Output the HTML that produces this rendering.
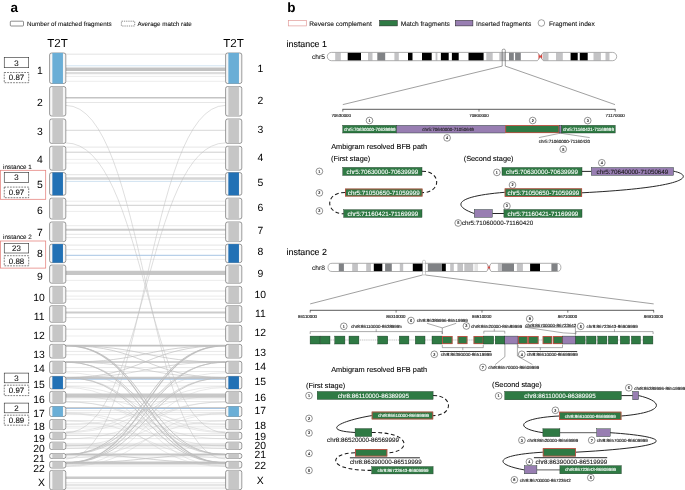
<!DOCTYPE html>
<html><head><meta charset="utf-8"><title>figure</title>
<style>
html,body{margin:0;padding:0;background:#fff;}
body{width:685px;height:490px;overflow:hidden;font-family:"Liberation Sans",sans-serif;}
svg{display:block;will-change:transform;}
svg text{font-family:"Liberation Sans",sans-serif;text-rendering:geometricPrecision;}
</style></head><body>
<svg width="685" height="490" viewBox="0 0 685 490">
<rect x="0" y="0" width="685" height="490" fill="#ffffff"/>
<text x="10.60" y="12.20" font-size="13.5" text-anchor="start" fill="#000" font-weight="bold" >a</text>
<rect x="10.3" y="21.2" width="13.2" height="4.8" rx="0.8" fill="#fff" stroke="#333" stroke-width="0.55"/>
<text x="27.10" y="25.50" font-size="6.25" text-anchor="start" fill="#111"  stroke="#111" stroke-width="0.09">Number of matched fragments</text>
<rect x="121.4" y="21.2" width="13.3" height="4.8" rx="0.3" fill="#fff" stroke="#333" stroke-width="0.55" stroke-dasharray="1.3,0.9"/>
<text x="137.40" y="25.50" font-size="6.25" text-anchor="start" fill="#111"  stroke="#111" stroke-width="0.09">Average match rate</text>
<text x="57.60" y="47.00" font-size="11.6" text-anchor="middle" fill="#000" >T2T</text>
<text x="233.60" y="47.00" font-size="11.6" text-anchor="middle" fill="#000" >T2T</text>
<g id="links">
<path d="M65.8,54.20H225.6" stroke="#c7c7c7" stroke-width="0.5" stroke-opacity="1.0" fill="none"/>
<path d="M65.8,65.80H225.6" stroke="#a9c9e6" stroke-width="0.55" stroke-opacity="1.0" fill="none"/>
<path d="M65.8,69.20H225.6" stroke="#c2c2c2" stroke-width="3.6" stroke-opacity="1.0" fill="none"/>
<path d="M65.8,73.20H225.6" stroke="#dddddd" stroke-width="2.2" stroke-opacity="1.0" fill="none"/>
<path d="M65.8,76.40H225.6" stroke="#d9d9d9" stroke-width="0.5" stroke-opacity="1.0" fill="none"/>
<path d="M65.8,81.30H225.6" stroke="#d9d9d9" stroke-width="0.5" stroke-opacity="1.0" fill="none"/>
<path d="M65.8,97.70H225.6" stroke="#c4c4c4" stroke-width="1.4" stroke-opacity="1.0" fill="none"/>
<path d="M65.8,102.50H225.6" stroke="#cdcdcd" stroke-width="0.5" stroke-opacity="1.0" fill="none"/>
<path d="M65.8,130.30H225.6" stroke="#c6c6c6" stroke-width="0.7" stroke-opacity="1.0" fill="none"/>
<path d="M65.8,147.10H225.6" stroke="#cbcbcb" stroke-width="0.5" stroke-opacity="1.0" fill="none"/>
<path d="M65.8,152.20H225.6" stroke="#c8c8c8" stroke-width="0.9" stroke-opacity="1.0" fill="none"/>
<path d="M65.8,159.40H225.6" stroke="#dbdbdb" stroke-width="0.5" stroke-opacity="1.0" fill="none"/>
<path d="M65.8,163.10H225.6" stroke="#dbdbdb" stroke-width="0.5" stroke-opacity="1.0" fill="none"/>
<path d="M65.8,174.70H225.6" stroke="#c7c7c7" stroke-width="0.5" stroke-opacity="1.0" fill="none"/>
<path d="M65.8,178.50H225.6" stroke="#d5d5d5" stroke-width="2.4" stroke-opacity="1.0" fill="none"/>
<path d="M65.8,181.40H225.6" stroke="#a9c9e6" stroke-width="0.55" stroke-opacity="1.0" fill="none"/>
<path d="M65.8,201.20H225.6" stroke="#d7d7d7" stroke-width="0.5" stroke-opacity="1.0" fill="none"/>
<path d="M65.8,205.30H225.6" stroke="#c8c8c8" stroke-width="0.9" stroke-opacity="1.0" fill="none"/>
<path d="M65.8,211.40H225.6" stroke="#d9d9d9" stroke-width="0.5" stroke-opacity="1.0" fill="none"/>
<path d="M65.8,225.70H225.6" stroke="#d7d7d7" stroke-width="0.5" stroke-opacity="1.0" fill="none"/>
<path d="M65.8,229.80H225.6" stroke="#cccccc" stroke-width="2.0" stroke-opacity="1.0" fill="none"/>
<path d="M65.8,234.30H225.6" stroke="#cbcbcb" stroke-width="0.5" stroke-opacity="1.0" fill="none"/>
<path d="M65.8,237.60H225.6" stroke="#cfcfcf" stroke-width="0.5" stroke-opacity="1.0" fill="none"/>
<path d="M65.8,245.10H225.6" stroke="#c7c7c7" stroke-width="0.5" stroke-opacity="1.0" fill="none"/>
<path d="M65.8,249.60H225.6" stroke="#dbdbdb" stroke-width="0.5" stroke-opacity="1.0" fill="none"/>
<path d="M65.8,255.30H225.6" stroke="#7fabd8" stroke-width="0.7" stroke-opacity="1.0" fill="none"/>
<path d="M65.8,259.40H225.6" stroke="#dbdbdb" stroke-width="0.5" stroke-opacity="1.0" fill="none"/>
<path d="M65.8,272.90H225.6" stroke="#c6c6c6" stroke-width="4.4" stroke-opacity="1.0" fill="none"/>
<path d="M65.8,280.40H225.6" stroke="#d9d9d9" stroke-width="0.5" stroke-opacity="1.0" fill="none"/>
<path d="M65.8,291.00H225.6" stroke="#cecece" stroke-width="0.7" stroke-opacity="1.0" fill="none"/>
<path d="M65.8,296.10H225.6" stroke="#d7d7d7" stroke-width="0.5" stroke-opacity="1.0" fill="none"/>
<path d="M65.8,299.20H225.6" stroke="#d7d7d7" stroke-width="0.5" stroke-opacity="1.0" fill="none"/>
<path d="M65.8,308.40H225.6" stroke="#d7d7d7" stroke-width="0.5" stroke-opacity="1.0" fill="none"/>
<path d="M65.8,312.40H225.6" stroke="#cccccc" stroke-width="2.0" stroke-opacity="1.0" fill="none"/>
<path d="M65.8,317.60H225.6" stroke="#c9c9c9" stroke-width="0.6" stroke-opacity="1.0" fill="none"/>
<path d="M65.8,329.20H225.6" stroke="#c9c9c9" stroke-width="0.6" stroke-opacity="1.0" fill="none"/>
<path d="M65.8,336.00H225.6" stroke="#d9d9d9" stroke-width="0.5" stroke-opacity="1.0" fill="none"/>
<path d="M65.8,345.60H225.6" stroke="#c2c2c2" stroke-width="1.8" stroke-opacity="1.0" fill="none"/>
<path d="M65.8,351.40H225.6" stroke="#cfcfcf" stroke-width="0.5" stroke-opacity="1.0" fill="none"/>
<path d="M65.8,354.70H225.6" stroke="#d3d3d3" stroke-width="0.5" stroke-opacity="1.0" fill="none"/>
<path d="M65.8,362.10H225.6" stroke="#c4c4c4" stroke-width="1.5" stroke-opacity="1.0" fill="none"/>
<path d="M65.8,367.60H225.6" stroke="#cfcfcf" stroke-width="0.5" stroke-opacity="1.0" fill="none"/>
<path d="M65.8,371.50H225.6" stroke="#d5d5d5" stroke-width="0.5" stroke-opacity="1.0" fill="none"/>
<path d="M65.8,377.80H225.6" stroke="#c8c8c8" stroke-width="2.2" stroke-opacity="1.0" fill="none"/>
<path d="M65.8,379.30H225.6" stroke="#86b0da" stroke-width="0.7" stroke-opacity="1.0" fill="none"/>
<path d="M65.8,382.60H225.6" stroke="#cfcfcf" stroke-width="0.5" stroke-opacity="1.0" fill="none"/>
<path d="M65.8,386.00H225.6" stroke="#d3d3d3" stroke-width="0.5" stroke-opacity="1.0" fill="none"/>
<path d="M65.8,395.60H225.6" stroke="#c8c8c8" stroke-width="4.2" stroke-opacity="1.0" fill="none"/>
<path d="M65.8,401.60H225.6" stroke="#cfcfcf" stroke-width="0.5" stroke-opacity="1.0" fill="none"/>
<path d="M65.8,407.60H225.6" stroke="#cccccc" stroke-width="1.2" stroke-opacity="1.0" fill="none"/>
<path d="M65.8,408.50H225.6" stroke="#86b0da" stroke-width="0.7" stroke-opacity="1.0" fill="none"/>
<path d="M65.8,412.60H225.6" stroke="#cfcfcf" stroke-width="0.5" stroke-opacity="1.0" fill="none"/>
<path d="M65.8,420.60H225.6" stroke="#cbcbcb" stroke-width="0.5" stroke-opacity="1.0" fill="none"/>
<path d="M65.8,423.90H225.6" stroke="#cfcfcf" stroke-width="0.5" stroke-opacity="1.0" fill="none"/>
<path d="M65.8,426.30H225.6" stroke="#d5d5d5" stroke-width="0.5" stroke-opacity="1.0" fill="none"/>
<path d="M65.8,435.30H225.6" stroke="#cccccc" stroke-width="0.9" stroke-opacity="1.0" fill="none"/>
<path d="M65.8,438.60H225.6" stroke="#cfcfcf" stroke-width="0.5" stroke-opacity="1.0" fill="none"/>
<path d="M65.8,445.10H225.6" stroke="#cccccc" stroke-width="1.4" stroke-opacity="1.0" fill="none"/>
<path d="M65.8,448.40H225.6" stroke="#cfcfcf" stroke-width="0.5" stroke-opacity="1.0" fill="none"/>
<path d="M65.8,454.50H225.6" stroke="#c6c6c6" stroke-width="2.0" stroke-opacity="1.0" fill="none"/>
<path d="M65.8,463.00H225.6" stroke="#c6c6c6" stroke-width="3.0" stroke-opacity="1.0" fill="none"/>
<path d="M65.8,398.90H225.6" stroke="#d3d3d3" stroke-width="0.5" stroke-opacity="1.0" fill="none"/>
<path d="M65.8,410.60H225.6" stroke="#d5d5d5" stroke-width="0.5" stroke-opacity="1.0" fill="none"/>
<path d="M65.8,414.60H225.6" stroke="#d5d5d5" stroke-width="0.5" stroke-opacity="1.0" fill="none"/>
<path d="M65.8,428.00H225.6" stroke="#d5d5d5" stroke-width="0.5" stroke-opacity="1.0" fill="none"/>
<path d="M65.8,433.60H225.6" stroke="#cfcfcf" stroke-width="0.5" stroke-opacity="1.0" fill="none"/>
<path d="M65.8,443.40H225.6" stroke="#cfcfcf" stroke-width="0.5" stroke-opacity="1.0" fill="none"/>
<path d="M65.8,446.90H225.6" stroke="#d3d3d3" stroke-width="0.5" stroke-opacity="1.0" fill="none"/>
<path d="M65.8,457.00H225.6" stroke="#cfcfcf" stroke-width="0.5" stroke-opacity="1.0" fill="none"/>
<path d="M65.8,466.00H225.6" stroke="#cfcfcf" stroke-width="0.5" stroke-opacity="1.0" fill="none"/>
<path d="M65.8,477.70H225.6" stroke="#cacaca" stroke-width="2.5" stroke-opacity="1.0" fill="none"/>
<path d="M65.8,482.80H225.6" stroke="#cdcdcd" stroke-width="0.5" stroke-opacity="1.0" fill="none"/>
<path d="M65.8,485.00H225.6" stroke="#cecece" stroke-width="1.1" stroke-opacity="1.0" fill="none"/>
<path d="M65.8,487.20H225.6" stroke="#cfcfcf" stroke-width="0.5" stroke-opacity="1.0" fill="none"/>
<path d="M65.8,488.70H225.6" stroke="#d1d1d1" stroke-width="0.5" stroke-opacity="1.0" fill="none"/>
<path d="M65.8,105.40C145.7,105.40 145.7,459.00 225.6,459.00" stroke="#bebebe" stroke-width="0.5" stroke-opacity="1.0" fill="none"/>
<path d="M225.6,105.40C145.7,105.40 145.7,459.00 65.8,459.00" stroke="#bebebe" stroke-width="0.5" stroke-opacity="1.0" fill="none"/>
<path d="M65.8,142.90C145.7,142.90 145.7,432.80 225.6,432.80" stroke="#bebebe" stroke-width="0.5" stroke-opacity="1.0" fill="none"/>
<path d="M225.6,142.90C145.7,142.90 145.7,432.80 65.8,432.80" stroke="#bebebe" stroke-width="0.5" stroke-opacity="1.0" fill="none"/>
<path d="M65.8,345.60C145.7,345.60 145.7,362.10 225.6,362.10" stroke="#bdbdbd" stroke-width="0.7" stroke-opacity="0.95" fill="none"/>
<path d="M225.6,345.60C145.7,345.60 145.7,362.10 65.8,362.10" stroke="#bdbdbd" stroke-width="0.7" stroke-opacity="0.95" fill="none"/>
<path d="M65.8,345.60C145.7,345.60 145.7,377.60 225.6,377.60" stroke="#bdbdbd" stroke-width="0.7" stroke-opacity="0.95" fill="none"/>
<path d="M225.6,345.60C145.7,345.60 145.7,377.60 65.8,377.60" stroke="#bdbdbd" stroke-width="0.7" stroke-opacity="0.95" fill="none"/>
<path d="M65.8,345.60C145.7,345.60 145.7,454.50 225.6,454.50" stroke="#bdbdbd" stroke-width="0.9" stroke-opacity="0.95" fill="none"/>
<path d="M225.6,345.60C145.7,345.60 145.7,454.50 65.8,454.50" stroke="#bdbdbd" stroke-width="0.9" stroke-opacity="0.95" fill="none"/>
<path d="M65.8,345.60C145.7,345.60 145.7,462.80 225.6,462.80" stroke="#bdbdbd" stroke-width="1.05" stroke-opacity="0.95" fill="none"/>
<path d="M225.6,345.60C145.7,345.60 145.7,462.80 65.8,462.80" stroke="#bdbdbd" stroke-width="1.05" stroke-opacity="0.95" fill="none"/>
<path d="M65.8,362.10C145.7,362.10 145.7,377.60 225.6,377.60" stroke="#bdbdbd" stroke-width="0.6" stroke-opacity="0.95" fill="none"/>
<path d="M225.6,362.10C145.7,362.10 145.7,377.60 65.8,377.60" stroke="#bdbdbd" stroke-width="0.6" stroke-opacity="0.95" fill="none"/>
<path d="M65.8,362.10C145.7,362.10 145.7,454.50 225.6,454.50" stroke="#bdbdbd" stroke-width="0.7" stroke-opacity="0.95" fill="none"/>
<path d="M225.6,362.10C145.7,362.10 145.7,454.50 65.8,454.50" stroke="#bdbdbd" stroke-width="0.7" stroke-opacity="0.95" fill="none"/>
<path d="M65.8,362.10C145.7,362.10 145.7,462.80 225.6,462.80" stroke="#bdbdbd" stroke-width="0.9" stroke-opacity="0.95" fill="none"/>
<path d="M225.6,362.10C145.7,362.10 145.7,462.80 65.8,462.80" stroke="#bdbdbd" stroke-width="0.9" stroke-opacity="0.95" fill="none"/>
<path d="M65.8,377.60C145.7,377.60 145.7,454.50 225.6,454.50" stroke="#bdbdbd" stroke-width="0.6" stroke-opacity="0.95" fill="none"/>
<path d="M225.6,377.60C145.7,377.60 145.7,454.50 65.8,454.50" stroke="#bdbdbd" stroke-width="0.6" stroke-opacity="0.95" fill="none"/>
<path d="M65.8,377.60C145.7,377.60 145.7,462.80 225.6,462.80" stroke="#bdbdbd" stroke-width="0.8" stroke-opacity="0.95" fill="none"/>
<path d="M225.6,377.60C145.7,377.60 145.7,462.80 65.8,462.80" stroke="#bdbdbd" stroke-width="0.8" stroke-opacity="0.95" fill="none"/>
<path d="M65.8,454.50C145.7,454.50 145.7,462.80 225.6,462.80" stroke="#bdbdbd" stroke-width="0.7" stroke-opacity="0.95" fill="none"/>
<path d="M225.6,454.50C145.7,454.50 145.7,462.80 65.8,462.80" stroke="#bdbdbd" stroke-width="0.7" stroke-opacity="0.95" fill="none"/>
<path d="M65.8,432.50C145.7,432.50 145.7,386.50 225.6,386.50" stroke="#c4c4c4" stroke-width="0.4" stroke-opacity="0.95" fill="none"/>
<path d="M225.6,432.50C145.7,432.50 145.7,386.50 65.8,386.50" stroke="#c4c4c4" stroke-width="0.4" stroke-opacity="0.95" fill="none"/>
<path d="M65.8,431.70C145.7,431.70 145.7,372.80 225.6,372.80" stroke="#c4c4c4" stroke-width="0.4" stroke-opacity="0.95" fill="none"/>
<path d="M225.6,431.70C145.7,431.70 145.7,372.80 65.8,372.80" stroke="#c4c4c4" stroke-width="0.4" stroke-opacity="0.95" fill="none"/>
<path d="M65.8,424.50C145.7,424.50 145.7,396.00 225.6,396.00" stroke="#c4c4c4" stroke-width="0.4" stroke-opacity="0.95" fill="none"/>
<path d="M225.6,424.50C145.7,424.50 145.7,396.00 65.8,396.00" stroke="#c4c4c4" stroke-width="0.4" stroke-opacity="0.95" fill="none"/>
<path d="M65.8,438.80C145.7,438.80 145.7,402.00 225.6,402.00" stroke="#c4c4c4" stroke-width="0.4" stroke-opacity="0.95" fill="none"/>
<path d="M225.6,438.80C145.7,438.80 145.7,402.00 65.8,402.00" stroke="#c4c4c4" stroke-width="0.4" stroke-opacity="0.95" fill="none"/>
<path d="M65.8,448.60C145.7,448.60 145.7,413.00 225.6,413.00" stroke="#c4c4c4" stroke-width="0.4" stroke-opacity="0.95" fill="none"/>
<path d="M225.6,448.60C145.7,448.60 145.7,413.00 65.8,413.00" stroke="#c4c4c4" stroke-width="0.4" stroke-opacity="0.95" fill="none"/>
<path d="M65.8,401.80C145.7,401.80 145.7,446.00 225.6,446.00" stroke="#c4c4c4" stroke-width="0.4" stroke-opacity="0.95" fill="none"/>
<path d="M225.6,401.80C145.7,401.80 145.7,446.00 65.8,446.00" stroke="#c4c4c4" stroke-width="0.4" stroke-opacity="0.95" fill="none"/>
<path d="M65.8,387.50C145.7,387.50 145.7,466.00 225.6,466.00" stroke="#c4c4c4" stroke-width="0.4" stroke-opacity="0.95" fill="none"/>
<path d="M225.6,387.50C145.7,387.50 145.7,466.00 65.8,466.00" stroke="#c4c4c4" stroke-width="0.4" stroke-opacity="0.95" fill="none"/>
<path d="M65.8,413.50C145.7,413.50 145.7,466.50 225.6,466.50" stroke="#c4c4c4" stroke-width="0.4" stroke-opacity="0.95" fill="none"/>
<path d="M225.6,413.50C145.7,413.50 145.7,466.50 65.8,466.50" stroke="#c4c4c4" stroke-width="0.4" stroke-opacity="0.95" fill="none"/>
<path d="M65.8,421.00C145.7,421.00 145.7,458.00 225.6,458.00" stroke="#c4c4c4" stroke-width="0.4" stroke-opacity="0.95" fill="none"/>
<path d="M225.6,421.00C145.7,421.00 145.7,458.00 65.8,458.00" stroke="#c4c4c4" stroke-width="0.4" stroke-opacity="0.95" fill="none"/>
</g>
<rect x="49.60" y="53.00" width="16.2" height="30.50" rx="2.0" fill="#f6f6f6" stroke="#4a4a4a" stroke-width="0.55"/>
<rect x="52.35" y="52.90" width="10.6" height="30.70" fill="#6aaed6"/>
<rect x="225.60" y="53.00" width="16.2" height="30.50" rx="2.0" fill="#f6f6f6" stroke="#4a4a4a" stroke-width="0.55"/>
<rect x="228.35" y="52.90" width="10.6" height="30.70" fill="#6aaed6"/>
<rect x="49.60" y="86.50" width="16.2" height="29.50" rx="2.0" fill="#f6f6f6" stroke="#4a4a4a" stroke-width="0.55"/>
<rect x="52.35" y="86.40" width="10.6" height="29.70" fill="#c6c6c6"/>
<rect x="225.60" y="86.50" width="16.2" height="29.50" rx="2.0" fill="#f6f6f6" stroke="#4a4a4a" stroke-width="0.55"/>
<rect x="228.35" y="86.40" width="10.6" height="29.70" fill="#c6c6c6"/>
<rect x="49.60" y="119.00" width="16.2" height="24.40" rx="2.0" fill="#f6f6f6" stroke="#4a4a4a" stroke-width="0.55"/>
<rect x="52.35" y="118.90" width="10.6" height="24.60" fill="#c6c6c6"/>
<rect x="225.60" y="119.00" width="16.2" height="24.40" rx="2.0" fill="#f6f6f6" stroke="#4a4a4a" stroke-width="0.55"/>
<rect x="228.35" y="118.90" width="10.6" height="24.60" fill="#c6c6c6"/>
<rect x="49.60" y="146.30" width="16.2" height="23.80" rx="2.0" fill="#f6f6f6" stroke="#4a4a4a" stroke-width="0.55"/>
<rect x="52.35" y="146.20" width="10.6" height="24.00" fill="#c6c6c6"/>
<rect x="225.60" y="146.30" width="16.2" height="23.80" rx="2.0" fill="#f6f6f6" stroke="#4a4a4a" stroke-width="0.55"/>
<rect x="228.35" y="146.20" width="10.6" height="24.00" fill="#c6c6c6"/>
<rect x="49.60" y="172.60" width="16.2" height="22.60" rx="2.0" fill="#f6f6f6" stroke="#4a4a4a" stroke-width="0.55"/>
<rect x="52.35" y="172.50" width="10.6" height="22.80" fill="#2271b5"/>
<rect x="225.60" y="172.60" width="16.2" height="22.60" rx="2.0" fill="#f6f6f6" stroke="#4a4a4a" stroke-width="0.55"/>
<rect x="228.35" y="172.50" width="10.6" height="22.80" fill="#2271b5"/>
<rect x="49.60" y="198.20" width="16.2" height="20.80" rx="2.0" fill="#f6f6f6" stroke="#4a4a4a" stroke-width="0.55"/>
<rect x="52.35" y="198.10" width="10.6" height="21.00" fill="#c6c6c6"/>
<rect x="225.60" y="198.20" width="16.2" height="20.80" rx="2.0" fill="#f6f6f6" stroke="#4a4a4a" stroke-width="0.55"/>
<rect x="228.35" y="198.10" width="10.6" height="21.00" fill="#c6c6c6"/>
<rect x="49.60" y="222.00" width="16.2" height="19.60" rx="2.0" fill="#f6f6f6" stroke="#4a4a4a" stroke-width="0.55"/>
<rect x="52.35" y="221.90" width="10.6" height="19.80" fill="#c6c6c6"/>
<rect x="225.60" y="222.00" width="16.2" height="19.60" rx="2.0" fill="#f6f6f6" stroke="#4a4a4a" stroke-width="0.55"/>
<rect x="228.35" y="221.90" width="10.6" height="19.80" fill="#c6c6c6"/>
<rect x="49.60" y="244.20" width="16.2" height="18.40" rx="2.0" fill="#f6f6f6" stroke="#4a4a4a" stroke-width="0.55"/>
<rect x="52.35" y="244.10" width="10.6" height="18.60" fill="#2271b5"/>
<rect x="225.60" y="244.20" width="16.2" height="18.40" rx="2.0" fill="#f6f6f6" stroke="#4a4a4a" stroke-width="0.55"/>
<rect x="228.35" y="244.10" width="10.6" height="18.60" fill="#2271b5"/>
<rect x="49.60" y="265.10" width="16.2" height="18.10" rx="2.0" fill="#f6f6f6" stroke="#4a4a4a" stroke-width="0.55"/>
<rect x="52.35" y="265.00" width="10.6" height="18.30" fill="#c6c6c6"/>
<rect x="225.60" y="265.10" width="16.2" height="18.10" rx="2.0" fill="#f6f6f6" stroke="#4a4a4a" stroke-width="0.55"/>
<rect x="228.35" y="265.00" width="10.6" height="18.30" fill="#c6c6c6"/>
<rect x="49.60" y="286.40" width="16.2" height="16.80" rx="2.0" fill="#f6f6f6" stroke="#4a4a4a" stroke-width="0.55"/>
<rect x="52.35" y="286.30" width="10.6" height="17.00" fill="#c6c6c6"/>
<rect x="225.60" y="286.40" width="16.2" height="16.80" rx="2.0" fill="#f6f6f6" stroke="#4a4a4a" stroke-width="0.55"/>
<rect x="228.35" y="286.30" width="10.6" height="17.00" fill="#c6c6c6"/>
<rect x="49.60" y="305.70" width="16.2" height="16.60" rx="2.0" fill="#f6f6f6" stroke="#4a4a4a" stroke-width="0.55"/>
<rect x="52.35" y="305.60" width="10.6" height="16.80" fill="#c6c6c6"/>
<rect x="225.60" y="305.70" width="16.2" height="16.60" rx="2.0" fill="#f6f6f6" stroke="#4a4a4a" stroke-width="0.55"/>
<rect x="228.35" y="305.60" width="10.6" height="16.80" fill="#c6c6c6"/>
<rect x="49.60" y="325.30" width="16.2" height="16.30" rx="2.0" fill="#f6f6f6" stroke="#4a4a4a" stroke-width="0.55"/>
<rect x="52.35" y="325.20" width="10.6" height="16.50" fill="#c6c6c6"/>
<rect x="225.60" y="325.30" width="16.2" height="16.30" rx="2.0" fill="#f6f6f6" stroke="#4a4a4a" stroke-width="0.55"/>
<rect x="228.35" y="325.20" width="10.6" height="16.50" fill="#c6c6c6"/>
<rect x="49.60" y="344.40" width="16.2" height="13.60" rx="2.0" fill="#f6f6f6" stroke="#4a4a4a" stroke-width="0.55"/>
<rect x="52.35" y="344.30" width="10.6" height="13.80" fill="#c6c6c6"/>
<rect x="225.60" y="344.40" width="16.2" height="13.60" rx="2.0" fill="#f6f6f6" stroke="#4a4a4a" stroke-width="0.55"/>
<rect x="228.35" y="344.30" width="10.6" height="13.80" fill="#c6c6c6"/>
<rect x="49.60" y="361.30" width="16.2" height="12.10" rx="2.0" fill="#f6f6f6" stroke="#4a4a4a" stroke-width="0.55"/>
<rect x="52.35" y="361.20" width="10.6" height="12.30" fill="#c6c6c6"/>
<rect x="225.60" y="361.30" width="16.2" height="12.10" rx="2.0" fill="#f6f6f6" stroke="#4a4a4a" stroke-width="0.55"/>
<rect x="228.35" y="361.20" width="10.6" height="12.30" fill="#c6c6c6"/>
<rect x="49.60" y="376.40" width="16.2" height="12.50" rx="2.0" fill="#f6f6f6" stroke="#4a4a4a" stroke-width="0.55"/>
<rect x="52.35" y="376.30" width="10.6" height="12.70" fill="#2271b5"/>
<rect x="225.60" y="376.40" width="16.2" height="12.50" rx="2.0" fill="#f6f6f6" stroke="#4a4a4a" stroke-width="0.55"/>
<rect x="228.35" y="376.30" width="10.6" height="12.70" fill="#2271b5"/>
<rect x="49.60" y="391.40" width="16.2" height="11.80" rx="2.0" fill="#f6f6f6" stroke="#4a4a4a" stroke-width="0.55"/>
<rect x="52.35" y="391.30" width="10.6" height="12.00" fill="#c6c6c6"/>
<rect x="225.60" y="391.40" width="16.2" height="11.80" rx="2.0" fill="#f6f6f6" stroke="#4a4a4a" stroke-width="0.55"/>
<rect x="228.35" y="391.30" width="10.6" height="12.00" fill="#c6c6c6"/>
<rect x="49.60" y="406.50" width="16.2" height="10.00" rx="2.0" fill="#f6f6f6" stroke="#4a4a4a" stroke-width="0.55"/>
<rect x="52.35" y="406.40" width="10.6" height="10.20" fill="#6aaed6"/>
<rect x="225.60" y="406.50" width="16.2" height="10.00" rx="2.0" fill="#f6f6f6" stroke="#4a4a4a" stroke-width="0.55"/>
<rect x="228.35" y="406.40" width="10.6" height="10.20" fill="#6aaed6"/>
<rect x="49.60" y="419.50" width="16.2" height="10.10" rx="2.0" fill="#f6f6f6" stroke="#4a4a4a" stroke-width="0.55"/>
<rect x="52.35" y="419.40" width="10.6" height="10.30" fill="#c6c6c6"/>
<rect x="225.60" y="419.50" width="16.2" height="10.10" rx="2.0" fill="#f6f6f6" stroke="#4a4a4a" stroke-width="0.55"/>
<rect x="228.35" y="419.40" width="10.6" height="10.30" fill="#c6c6c6"/>
<rect x="49.60" y="432.30" width="16.2" height="6.90" rx="2.0" fill="#f6f6f6" stroke="#4a4a4a" stroke-width="0.55"/>
<rect x="52.35" y="432.20" width="10.6" height="7.10" fill="#c6c6c6"/>
<rect x="225.60" y="432.30" width="16.2" height="6.90" rx="2.0" fill="#f6f6f6" stroke="#4a4a4a" stroke-width="0.55"/>
<rect x="228.35" y="432.20" width="10.6" height="7.10" fill="#c6c6c6"/>
<rect x="49.60" y="442.20" width="16.2" height="7.30" rx="2.0" fill="#f6f6f6" stroke="#4a4a4a" stroke-width="0.55"/>
<rect x="52.35" y="442.10" width="10.6" height="7.50" fill="#c6c6c6"/>
<rect x="225.60" y="442.20" width="16.2" height="7.30" rx="2.0" fill="#f6f6f6" stroke="#4a4a4a" stroke-width="0.55"/>
<rect x="228.35" y="442.10" width="10.6" height="7.50" fill="#c6c6c6"/>
<rect x="49.60" y="453.50" width="16.2" height="5.00" rx="2.0" fill="#f6f6f6" stroke="#4a4a4a" stroke-width="0.55"/>
<rect x="52.35" y="453.40" width="10.6" height="5.20" fill="#c6c6c6"/>
<rect x="225.60" y="453.50" width="16.2" height="5.00" rx="2.0" fill="#f6f6f6" stroke="#4a4a4a" stroke-width="0.55"/>
<rect x="228.35" y="453.40" width="10.6" height="5.20" fill="#c6c6c6"/>
<rect x="49.60" y="461.40" width="16.2" height="6.60" rx="2.0" fill="#f6f6f6" stroke="#4a4a4a" stroke-width="0.55"/>
<rect x="52.35" y="461.30" width="10.6" height="6.80" fill="#c6c6c6"/>
<rect x="225.60" y="461.40" width="16.2" height="6.60" rx="2.0" fill="#f6f6f6" stroke="#4a4a4a" stroke-width="0.55"/>
<rect x="228.35" y="461.30" width="10.6" height="6.80" fill="#c6c6c6"/>
<rect x="49.60" y="470.40" width="16.2" height="19.30" rx="2.0" fill="#f6f6f6" stroke="#4a4a4a" stroke-width="0.55"/>
<rect x="52.35" y="470.30" width="10.6" height="19.50" fill="#c6c6c6"/>
<rect x="225.60" y="470.40" width="16.2" height="19.30" rx="2.0" fill="#f6f6f6" stroke="#4a4a4a" stroke-width="0.55"/>
<rect x="228.35" y="470.30" width="10.6" height="19.50" fill="#c6c6c6"/>
<text x="39.80" y="73.92" font-size="10.4" text-anchor="middle" fill="#000" >1</text>
<text x="260.30" y="71.62" font-size="10.4" text-anchor="middle" fill="#000" >1</text>
<text x="39.80" y="106.12" font-size="10.4" text-anchor="middle" fill="#000" >2</text>
<text x="260.30" y="103.62" font-size="10.4" text-anchor="middle" fill="#000" >2</text>
<text x="39.80" y="135.32" font-size="10.4" text-anchor="middle" fill="#000" >3</text>
<text x="260.30" y="132.82" font-size="10.4" text-anchor="middle" fill="#000" >3</text>
<text x="39.80" y="163.12" font-size="10.4" text-anchor="middle" fill="#000" >4</text>
<text x="260.30" y="160.52" font-size="10.4" text-anchor="middle" fill="#000" >4</text>
<text x="39.80" y="188.12" font-size="10.4" text-anchor="middle" fill="#000" >5</text>
<text x="260.30" y="185.92" font-size="10.4" text-anchor="middle" fill="#000" >5</text>
<text x="39.80" y="213.52" font-size="10.4" text-anchor="middle" fill="#000" >6</text>
<text x="260.30" y="211.22" font-size="10.4" text-anchor="middle" fill="#000" >6</text>
<text x="39.80" y="236.02" font-size="10.4" text-anchor="middle" fill="#000" >7</text>
<text x="260.30" y="233.82" font-size="10.4" text-anchor="middle" fill="#000" >7</text>
<text x="39.80" y="256.92" font-size="10.4" text-anchor="middle" fill="#000" >8</text>
<text x="260.30" y="255.42" font-size="10.4" text-anchor="middle" fill="#000" >8</text>
<text x="39.80" y="279.72" font-size="10.4" text-anchor="middle" fill="#000" >9</text>
<text x="260.30" y="277.22" font-size="10.4" text-anchor="middle" fill="#000" >9</text>
<text x="39.10" y="300.92" font-size="10.4" text-anchor="middle" fill="#000" >10</text>
<text x="260.30" y="298.12" font-size="10.4" text-anchor="middle" fill="#000" >10</text>
<text x="39.10" y="319.52" font-size="10.4" text-anchor="middle" fill="#000" >11</text>
<text x="260.30" y="317.32" font-size="10.4" text-anchor="middle" fill="#000" >11</text>
<text x="39.10" y="338.82" font-size="10.4" text-anchor="middle" fill="#000" >12</text>
<text x="260.30" y="336.32" font-size="10.4" text-anchor="middle" fill="#000" >12</text>
<text x="39.10" y="357.52" font-size="10.4" text-anchor="middle" fill="#000" >13</text>
<text x="260.30" y="355.72" font-size="10.4" text-anchor="middle" fill="#000" >13</text>
<text x="39.10" y="372.42" font-size="10.4" text-anchor="middle" fill="#000" >14</text>
<text x="260.30" y="370.12" font-size="10.4" text-anchor="middle" fill="#000" >14</text>
<text x="39.10" y="387.62" font-size="10.4" text-anchor="middle" fill="#000" >15</text>
<text x="260.30" y="384.72" font-size="10.4" text-anchor="middle" fill="#000" >15</text>
<text x="39.10" y="402.62" font-size="10.4" text-anchor="middle" fill="#000" >16</text>
<text x="260.30" y="400.92" font-size="10.4" text-anchor="middle" fill="#000" >16</text>
<text x="39.10" y="416.52" font-size="10.4" text-anchor="middle" fill="#000" >17</text>
<text x="260.30" y="414.02" font-size="10.4" text-anchor="middle" fill="#000" >17</text>
<text x="39.10" y="430.22" font-size="10.4" text-anchor="middle" fill="#000" >18</text>
<text x="260.30" y="428.72" font-size="10.4" text-anchor="middle" fill="#000" >18</text>
<text x="39.10" y="441.92" font-size="10.4" text-anchor="middle" fill="#000" >19</text>
<text x="260.30" y="439.52" font-size="10.4" text-anchor="middle" fill="#000" >19</text>
<text x="39.10" y="452.22" font-size="10.4" text-anchor="middle" fill="#000" >20</text>
<text x="260.30" y="449.32" font-size="10.4" text-anchor="middle" fill="#000" >20</text>
<text x="39.10" y="462.12" font-size="10.4" text-anchor="middle" fill="#000" >21</text>
<text x="260.30" y="458.12" font-size="10.4" text-anchor="middle" fill="#000" >21</text>
<text x="39.10" y="472.02" font-size="10.4" text-anchor="middle" fill="#000" >22</text>
<text x="260.30" y="468.62" font-size="10.4" text-anchor="middle" fill="#000" >22</text>
<text x="41.40" y="485.62" font-size="10.4" text-anchor="middle" fill="#000" >X</text>
<text x="260.30" y="484.12" font-size="10.4" text-anchor="middle" fill="#000" >X</text>
<rect x="4.25" y="57.6" width="24.45" height="10.10" fill="#fff" stroke="#2a2a2a" stroke-width="0.6"/>
<text x="16.50" y="65.53" font-size="7.9" text-anchor="middle" fill="#111"  stroke="#111" stroke-width="0.09">3</text>
<rect x="4.25" y="72.5" width="24.45" height="10.20" fill="#fff" stroke="#2a2a2a" stroke-width="0.6" stroke-dasharray="1.8,1.05"/>
<text x="16.50" y="80.48" font-size="7.9" text-anchor="middle" fill="#111"  stroke="#111" stroke-width="0.09">0.87</text>
<rect x="0.4" y="170.3" width="45.3" height="29.0" fill="none" stroke="#e47f7a" stroke-width="0.75"/>
<text x="3.10" y="168.70" font-size="6.3" text-anchor="start" fill="#111"  stroke="#111" stroke-width="0.09">instance 1</text>
<rect x="4.25" y="172.6" width="24.45" height="9.70" fill="#fff" stroke="#2a2a2a" stroke-width="0.6"/>
<text x="16.50" y="180.33" font-size="7.9" text-anchor="middle" fill="#111"  stroke="#111" stroke-width="0.09">3</text>
<rect x="4.25" y="187.1" width="24.45" height="10.60" fill="#fff" stroke="#2a2a2a" stroke-width="0.6" stroke-dasharray="1.8,1.05"/>
<text x="16.50" y="195.28" font-size="7.9" text-anchor="middle" fill="#111"  stroke="#111" stroke-width="0.09">0.97</text>
<rect x="0.4" y="241.0" width="45.3" height="27.1" fill="none" stroke="#e47f7a" stroke-width="0.75"/>
<text x="3.10" y="238.80" font-size="6.3" text-anchor="start" fill="#111"  stroke="#111" stroke-width="0.09">instance 2</text>
<rect x="4.25" y="243.3" width="24.45" height="9.70" fill="#fff" stroke="#2a2a2a" stroke-width="0.6"/>
<text x="16.50" y="251.03" font-size="7.9" text-anchor="middle" fill="#111"  stroke="#111" stroke-width="0.09">23</text>
<rect x="4.25" y="255.7" width="24.45" height="10.10" fill="#fff" stroke="#2a2a2a" stroke-width="0.6" stroke-dasharray="1.8,1.05"/>
<text x="16.50" y="263.63" font-size="7.9" text-anchor="middle" fill="#111"  stroke="#111" stroke-width="0.09">0.88</text>
<rect x="4.25" y="373.1" width="24.45" height="9.70" fill="#fff" stroke="#2a2a2a" stroke-width="0.6"/>
<text x="16.50" y="380.83" font-size="7.9" text-anchor="middle" fill="#111"  stroke="#111" stroke-width="0.09">3</text>
<rect x="4.25" y="385.2" width="24.45" height="10.40" fill="#fff" stroke="#2a2a2a" stroke-width="0.6" stroke-dasharray="1.8,1.05"/>
<text x="16.50" y="393.28" font-size="7.9" text-anchor="middle" fill="#111"  stroke="#111" stroke-width="0.09">0.97</text>
<rect x="4.25" y="403.1" width="24.45" height="9.70" fill="#fff" stroke="#2a2a2a" stroke-width="0.6"/>
<text x="16.50" y="410.83" font-size="7.9" text-anchor="middle" fill="#111"  stroke="#111" stroke-width="0.09">2</text>
<rect x="4.25" y="415.2" width="24.45" height="10.00" fill="#fff" stroke="#2a2a2a" stroke-width="0.6" stroke-dasharray="1.8,1.05"/>
<text x="16.50" y="423.08" font-size="7.9" text-anchor="middle" fill="#111"  stroke="#111" stroke-width="0.09">0.89</text>
<text x="287.30" y="11.80" font-size="13.5" text-anchor="start" fill="#000" font-weight="bold" >b</text>
<rect x="288.3" y="20.4" width="18" height="5.5" fill="#fff" stroke="#df9390" stroke-width="0.65"/>
<text x="309.30" y="25.60" font-size="6.62" text-anchor="start" fill="#111"  stroke="#111" stroke-width="0.09">Reverse complement</text>
<rect x="379.6" y="20.4" width="17.7" height="5.5" fill="#2f7a44" stroke="#1c1c1c" stroke-width="0.5"/>
<text x="400.70" y="25.60" font-size="6.62" text-anchor="start" fill="#111"  stroke="#111" stroke-width="0.09">Match fragments</text>
<rect x="455.3" y="20.4" width="17.6" height="5.5" fill="#987eb2" stroke="#1c1c1c" stroke-width="0.5"/>
<text x="476.10" y="25.60" font-size="6.62" text-anchor="start" fill="#111"  stroke="#111" stroke-width="0.09">Inserted fragments</text>
<circle cx="541.4" cy="23.0" r="3.3" fill="#fff" stroke="#333" stroke-width="0.45"/>
<text x="548.90" y="25.60" font-size="6.62" text-anchor="start" fill="#111"  stroke="#111" stroke-width="0.09">Fragment index</text>
<text x="286.60" y="47.20" font-size="8.85" text-anchor="start" fill="#000"  stroke="#000" stroke-width="0.09">instance 1</text>
<text x="312.00" y="58.86" font-size="6.6" text-anchor="start" fill="#111"  stroke="#111" stroke-width="0.09">chr5</text>
<clipPath id="clip327_52"><path d="M331.45,52.40 L537.40,52.40 L540.35,56.05 L543.30,52.40 L612.55,52.40 A4.15,4.15 0 0 1 612.55,60.70 L543.30,60.70 L540.35,57.05 L537.40,60.70 L331.45,60.70 A4.15,4.15 0 0 1 331.45,52.40 Z"/></clipPath>
<g clip-path="url(#clip327_52)">
<rect x="327.3" y="52.4" width="289.40000000000003" height="8.300000000000004" fill="#fff"/>
<rect x="335.20" y="52.4" width="5.60" height="8.30" fill="#c3c3c5"/>
<rect x="347.70" y="52.4" width="13.30" height="8.30" fill="#000"/>
<rect x="368.00" y="52.4" width="4.50" height="8.30" fill="#c3c3c5"/>
<rect x="377.30" y="52.4" width="7.90" height="8.30" fill="#808285"/>
<rect x="394.40" y="52.4" width="4.40" height="8.30" fill="#c3c3c5"/>
<rect x="408.00" y="52.4" width="4.50" height="8.30" fill="#000"/>
<rect x="422.00" y="52.4" width="9.70" height="8.30" fill="#000"/>
<rect x="435.60" y="52.4" width="1.80" height="8.30" fill="#c3c3c5"/>
<rect x="440.90" y="52.4" width="7.80" height="8.30" fill="#000"/>
<rect x="451.90" y="52.4" width="6.80" height="8.30" fill="#000"/>
<rect x="468.50" y="52.4" width="15.10" height="8.30" fill="#000"/>
<rect x="486.30" y="52.4" width="6.40" height="8.30" fill="#c3c3c5"/>
<rect x="499.30" y="52.4" width="6.20" height="8.30" fill="#c3c3c5"/>
<rect x="509.00" y="52.4" width="4.80" height="8.30" fill="#808285"/>
<rect x="515.10" y="52.4" width="5.70" height="8.30" fill="#808285"/>
<rect x="543.00" y="52.4" width="5.50" height="8.30" fill="#c3c3c5"/>
<rect x="556.00" y="52.4" width="6.80" height="8.30" fill="#c3c3c5"/>
<rect x="570.60" y="52.4" width="7.10" height="8.30" fill="#000"/>
<rect x="579.80" y="52.4" width="7.90" height="8.30" fill="#000"/>
<rect x="593.50" y="52.4" width="7.40" height="8.30" fill="#c3c3c5"/>
<rect x="605.50" y="52.4" width="4.00" height="8.30" fill="#c3c3c5"/>
<rect x="538.50" y="52.4" width="3.70" height="8.30" fill="#e2413b"/>
</g>
<path d="M331.45,52.40 L537.40,52.40 L540.35,56.05 L543.30,52.40 L612.55,52.40 A4.15,4.15 0 0 1 612.55,60.70 L543.30,60.70 L540.35,57.05 L537.40,60.70 L331.45,60.70 A4.15,4.15 0 0 1 331.45,52.40 Z" fill="none" stroke="#8c8c8c" stroke-width="0.7" stroke-linejoin="round"/>
<path d="M342.8,104.6 L502.2,66.1 L502.2,50.3 Q502.2,49.2 503.3,49.2 L504.2,49.2 Q505.3,49.2 505.3,50.3 L505.3,66.1 L615.0,104.6" fill="none" stroke="#404040" stroke-width="0.5" stroke-linejoin="round"/>
<path d="M342.50,109.30 L615.50,109.30" fill="none" stroke="#222" stroke-width="0.75" />
<path d="M342.80,109.30 L342.80,111.60" fill="none" stroke="#222" stroke-width="0.6" />
<text x="341.20" y="117.18" font-size="4.4" text-anchor="middle" fill="#111"  stroke="#111" stroke-width="0.12">70630000</text>
<path d="M479.00,109.30 L479.00,111.60" fill="none" stroke="#222" stroke-width="0.6" />
<text x="479.00" y="117.18" font-size="4.4" text-anchor="middle" fill="#111"  stroke="#111" stroke-width="0.12">70900000</text>
<path d="M615.20,109.30 L615.20,111.60" fill="none" stroke="#222" stroke-width="0.6" />
<text x="615.20" y="117.18" font-size="4.4" text-anchor="middle" fill="#111"  stroke="#111" stroke-width="0.12">71170000</text>
<rect x="342.80" y="125.30" width="53.70" height="7.70" fill="#2f7a44" stroke="#173420" stroke-width="0.4"/>
<text x="369.65" y="130.86" font-size="4.5" text-anchor="middle" fill="#fff"  stroke="#fff" stroke-width="0.12">chr5:70630000-70639999</text>
<rect x="396.50" y="125.30" width="108.90" height="7.70" fill="#987eb2" stroke="#173420" stroke-width="0.4"/>
<text x="447.90" y="130.86" font-size="4.5" text-anchor="middle" fill="#222"  stroke="#222" stroke-width="0.12">chr5:70640000-71050649</text>
<rect x="505.40" y="125.30" width="53.80" height="7.70" fill="#2f7a44"/>
<rect x="505.70" y="125.60" width="53.20" height="7.10" fill="none" stroke="#d04a43" stroke-width="0.8"/>
<rect x="559.20" y="125.30" width="2.50" height="7.70" fill="#987eb2" stroke="#173420" stroke-width="0.4"/>
<rect x="561.70" y="125.30" width="53.50" height="7.70" fill="#2f7a44" stroke="#173420" stroke-width="0.4"/>
<text x="588.45" y="130.86" font-size="4.5" text-anchor="middle" fill="#fff"  stroke="#fff" stroke-width="0.12">chr5:71160421-71169999</text>
<circle cx="369.50" cy="120.50" r="3.35" fill="#fff" stroke="#2a2a2a" stroke-width="0.5"/>
<text x="369.50" y="121.96" font-size="3.8" text-anchor="middle" fill="#111"  stroke="#111" stroke-width="0.12">1</text>
<circle cx="532.70" cy="120.50" r="3.35" fill="#fff" stroke="#2a2a2a" stroke-width="0.5"/>
<text x="532.70" y="121.96" font-size="3.8" text-anchor="middle" fill="#111"  stroke="#111" stroke-width="0.12">2</text>
<circle cx="587.70" cy="120.60" r="3.35" fill="#fff" stroke="#2a2a2a" stroke-width="0.5"/>
<text x="587.70" y="122.06" font-size="3.8" text-anchor="middle" fill="#111"  stroke="#111" stroke-width="0.12">3</text>
<circle cx="447.10" cy="137.90" r="3.35" fill="#fff" stroke="#2a2a2a" stroke-width="0.5"/>
<text x="447.10" y="139.36" font-size="3.8" text-anchor="middle" fill="#111"  stroke="#111" stroke-width="0.12">4</text>
<circle cx="563.20" cy="149.20" r="3.35" fill="#fff" stroke="#2a2a2a" stroke-width="0.5"/>
<text x="563.20" y="150.66" font-size="3.8" text-anchor="middle" fill="#111"  stroke="#111" stroke-width="0.12">5</text>
<path d="M538.90,137.60 L560.40,133.20 L589.70,137.60" fill="none" stroke="#444" stroke-width="0.45" />
<text x="564.40" y="143.41" font-size="4.5" text-anchor="middle" fill="#111"  stroke="#111" stroke-width="0.12">chr5:71060000-71160420</text>
<text x="331.20" y="149.00" font-size="7.35" text-anchor="start" fill="#000"  stroke="#000" stroke-width="0.09">Ambigram resolved BFB path</text>
<text x="331.10" y="160.70" font-size="7.35" text-anchor="start" fill="#000"  stroke="#000" stroke-width="0.09">(First stage)</text>
<text x="463.70" y="160.70" font-size="7.35" text-anchor="start" fill="#000"  stroke="#000" stroke-width="0.09">(Second stage)</text>
<rect x="342.80" y="167.40" width="79.20" height="8.00" fill="#2f7a44" stroke="#173420" stroke-width="0.4"/>
<text x="382.40" y="173.74" font-size="6.27" text-anchor="middle" fill="#fff"  stroke="#fff" stroke-width="0.09">chr5:70630000-70639999</text>
<rect x="345.10" y="188.70" width="77.30" height="7.70" fill="#2f7a44"/>
<rect x="345.40" y="189.00" width="76.70" height="7.10" fill="none" stroke="#d04a43" stroke-width="0.8"/>
<text x="383.75" y="194.89" font-size="6.27" text-anchor="middle" fill="#fff"  stroke="#fff" stroke-width="0.09">chr5:71050650-71059999</text>
<rect x="343.70" y="209.70" width="78.30" height="7.70" fill="#2f7a44" stroke="#173420" stroke-width="0.4"/>
<text x="382.85" y="215.89" font-size="6.27" text-anchor="middle" fill="#fff"  stroke="#fff" stroke-width="0.09">chr5:71160421-71169999</text>
<circle cx="319.40" cy="171.40" r="3.35" fill="#fff" stroke="#2a2a2a" stroke-width="0.5"/>
<text x="319.40" y="172.86" font-size="3.8" text-anchor="middle" fill="#111"  stroke="#111" stroke-width="0.12">1</text>
<circle cx="319.40" cy="192.90" r="3.35" fill="#fff" stroke="#2a2a2a" stroke-width="0.5"/>
<text x="319.40" y="194.36" font-size="3.8" text-anchor="middle" fill="#111"  stroke="#111" stroke-width="0.12">2</text>
<circle cx="319.40" cy="210.90" r="3.35" fill="#fff" stroke="#2a2a2a" stroke-width="0.5"/>
<text x="319.40" y="212.36" font-size="3.8" text-anchor="middle" fill="#111"  stroke="#111" stroke-width="0.12">3</text>
<path d="M422.00,171.20 C441.60,171.20 441.46,192.60 422.40,192.60" fill="none" stroke="#1a1a1a" stroke-width="1.05" stroke-dasharray="3.8,2.6" stroke-linecap="butt"/>
<path d="M345.10,192.40 C324.57,192.40 325.04,213.80 343.70,213.80" fill="none" stroke="#1a1a1a" stroke-width="1.05" stroke-dasharray="3.8,2.6" stroke-linecap="butt"/>
<circle cx="496.90" cy="172.40" r="3.35" fill="#fff" stroke="#2a2a2a" stroke-width="0.5"/>
<text x="496.90" y="173.86" font-size="3.8" text-anchor="middle" fill="#111"  stroke="#111" stroke-width="0.12">1</text>
<path d="M582.00,171.40 L591.30,171.40" fill="none" stroke="#1a1a1a" stroke-width="0.95" />
<rect x="502.00" y="167.50" width="80.00" height="7.90" fill="#2f7a44" stroke="#173420" stroke-width="0.4"/>
<text x="542.00" y="173.79" font-size="6.27" text-anchor="middle" fill="#fff"  stroke="#fff" stroke-width="0.09">chr5:70630000-70639999</text>
<rect x="591.30" y="167.50" width="82.30" height="7.90" fill="#987eb2" stroke="#173420" stroke-width="0.4"/>
<text x="632.45" y="173.79" font-size="6.27" text-anchor="middle" fill="#1a1a1a"  stroke="#1a1a1a" stroke-width="0.09">chr5:70640000-71050649</text>
<circle cx="601.80" cy="162.80" r="3.35" fill="#fff" stroke="#2a2a2a" stroke-width="0.5"/>
<text x="601.80" y="164.26" font-size="3.8" text-anchor="middle" fill="#111"  stroke="#111" stroke-width="0.12">4</text>
<path d="M673.6,171.2 C692.5,175 694,187 582,192.8" fill="none" stroke="#1a1a1a" stroke-width="0.95"/>
<circle cx="512.50" cy="185.00" r="3.35" fill="#fff" stroke="#2a2a2a" stroke-width="0.5"/>
<text x="512.50" y="186.46" font-size="3.8" text-anchor="middle" fill="#111"  stroke="#111" stroke-width="0.12">2</text>
<path d="M504.8,192.3 C458,196 450,205 474.2,213.5" fill="none" stroke="#1a1a1a" stroke-width="0.95"/>
<rect x="504.80" y="188.50" width="77.20" height="8.30" fill="#2f7a44"/>
<rect x="505.10" y="188.80" width="76.60" height="7.70" fill="none" stroke="#d04a43" stroke-width="0.8"/>
<text x="543.40" y="194.99" font-size="6.27" text-anchor="middle" fill="#fff"  stroke="#fff" stroke-width="0.09">chr5:71050650-71059999</text>
<path d="M492.40,213.50 L503.90,213.50" fill="none" stroke="#1a1a1a" stroke-width="0.95" />
<rect x="474.20" y="209.50" width="18.20" height="7.90" fill="#987eb2" stroke="#173420" stroke-width="0.4"/>
<rect x="503.90" y="209.50" width="78.10" height="7.90" fill="#2f7a44" stroke="#173420" stroke-width="0.4"/>
<text x="542.95" y="215.79" font-size="6.27" text-anchor="middle" fill="#fff"  stroke="#fff" stroke-width="0.09">chr5:71160421-71169999</text>
<circle cx="506.90" cy="206.00" r="3.35" fill="#fff" stroke="#2a2a2a" stroke-width="0.5"/>
<text x="506.90" y="207.46" font-size="3.8" text-anchor="middle" fill="#111"  stroke="#111" stroke-width="0.12">3</text>
<circle cx="458.20" cy="223.00" r="3.35" fill="#fff" stroke="#2a2a2a" stroke-width="0.5"/>
<text x="458.20" y="224.46" font-size="3.8" text-anchor="middle" fill="#111"  stroke="#111" stroke-width="0.12">5</text>
<text x="461.90" y="225.34" font-size="6.27" text-anchor="start" fill="#111"  stroke="#111" stroke-width="0.09">chr5:71060000-71160420</text>
<text x="286.60" y="255.20" font-size="8.85" text-anchor="start" fill="#000"  stroke="#000" stroke-width="0.09">instance 2</text>
<text x="312.00" y="270.26" font-size="6.6" text-anchor="start" fill="#111"  stroke="#111" stroke-width="0.09">chr8</text>
<clipPath id="clip328_263"><path d="M332.10,263.30 L486.60,263.30 L488.90,266.90 L491.20,263.30 L556.80,263.30 A4.10,4.10 0 0 1 556.80,271.50 L491.20,271.50 L488.90,267.90 L486.60,271.50 L332.10,271.50 A4.10,4.10 0 0 1 332.10,263.30 Z"/></clipPath>
<g clip-path="url(#clip328_263)">
<rect x="328.0" y="263.3" width="232.89999999999998" height="8.199999999999989" fill="#fff"/>
<rect x="338.80" y="263.3" width="5.10" height="8.20" fill="#808285"/>
<rect x="352.20" y="263.3" width="5.70" height="8.20" fill="#c3c3c5"/>
<rect x="366.20" y="263.3" width="4.70" height="8.20" fill="#c3c3c5"/>
<rect x="373.80" y="263.3" width="8.50" height="8.20" fill="#000"/>
<rect x="385.10" y="263.3" width="6.70" height="8.20" fill="#808285"/>
<rect x="399.80" y="263.3" width="3.40" height="8.20" fill="#c3c3c5"/>
<rect x="412.80" y="263.3" width="10.20" height="8.20" fill="#000"/>
<rect x="427.80" y="263.3" width="14.20" height="8.20" fill="#808285"/>
<rect x="442.00" y="263.3" width="3.80" height="8.20" fill="#000"/>
<rect x="450.20" y="263.3" width="3.60" height="8.20" fill="#c3c3c5"/>
<rect x="457.40" y="263.3" width="5.60" height="8.20" fill="#c3c3c5"/>
<rect x="464.30" y="263.3" width="8.90" height="8.20" fill="#c3c3c5"/>
<rect x="474.40" y="263.3" width="3.60" height="8.20" fill="#e4e4e4"/>
<rect x="497.90" y="263.3" width="4.00" height="8.20" fill="#c3c3c5"/>
<rect x="501.90" y="263.3" width="12.10" height="8.20" fill="#808285"/>
<rect x="516.90" y="263.3" width="6.00" height="8.20" fill="#c3c3c5"/>
<rect x="530.10" y="263.3" width="9.90" height="8.20" fill="#000"/>
<rect x="551.40" y="263.3" width="6.20" height="8.20" fill="#808285"/>
<rect x="487.70" y="263.3" width="2.40" height="8.20" fill="#e2413b"/>
</g>
<path d="M332.10,263.30 L486.60,263.30 L488.90,266.90 L491.20,263.30 L556.80,263.30 A4.10,4.10 0 0 1 556.80,271.50 L491.20,271.50 L488.90,267.90 L486.60,271.50 L332.10,271.50 A4.10,4.10 0 0 1 332.10,263.30 Z" fill="none" stroke="#8c8c8c" stroke-width="0.7" stroke-linejoin="round"/>
<rect x="422.5" y="260.3" width="3.0" height="14.7" rx="1.2" fill="#fff" fill-opacity="0.55" stroke="#9a9a9a" stroke-width="0.5"/>
<path d="M310.2,303.9 L422.6,275.0 M425.4,275.0 L653.7,303.9" fill="none" stroke="#404040" stroke-width="0.5"/>
<path d="M309.90,310.30 L654.00,310.30" fill="none" stroke="#222" stroke-width="0.75" />
<path d="M310.20,310.30 L310.20,312.60" fill="none" stroke="#222" stroke-width="0.6" />
<text x="307.50" y="318.26" font-size="4.35" text-anchor="middle" fill="#111"  stroke="#111" stroke-width="0.12">86110000</text>
<path d="M396.10,310.30 L396.10,312.60" fill="none" stroke="#222" stroke-width="0.6" />
<text x="395.80" y="318.26" font-size="4.35" text-anchor="middle" fill="#111"  stroke="#111" stroke-width="0.12">86310000</text>
<path d="M482.00,310.30 L482.00,312.60" fill="none" stroke="#222" stroke-width="0.6" />
<text x="481.70" y="318.26" font-size="4.35" text-anchor="middle" fill="#111"  stroke="#111" stroke-width="0.12">86510000</text>
<path d="M567.80,310.30 L567.80,312.60" fill="none" stroke="#222" stroke-width="0.6" />
<text x="567.50" y="318.26" font-size="4.35" text-anchor="middle" fill="#111"  stroke="#111" stroke-width="0.12">86710000</text>
<path d="M653.70,310.30 L653.70,312.60" fill="none" stroke="#222" stroke-width="0.6" />
<text x="653.40" y="318.26" font-size="4.35" text-anchor="middle" fill="#111"  stroke="#111" stroke-width="0.12">86910000</text>
<path d="M330.60,340.00 L653.10,340.00" fill="none" stroke="#9c9c9c" stroke-width="0.65" stroke-dasharray="1.25,0.85" />
<rect x="310.10" y="336.10" width="9.90" height="7.90" fill="#2f7a44" stroke="#173420" stroke-width="0.4"/>
<rect x="320.20" y="336.10" width="9.80" height="7.90" fill="#2f7a44" stroke="#173420" stroke-width="0.4"/>
<rect x="334.80" y="336.10" width="10.10" height="7.90" fill="#2f7a44" stroke="#173420" stroke-width="0.4"/>
<rect x="349.00" y="336.10" width="9.90" height="7.90" fill="#2f7a44" stroke="#173420" stroke-width="0.4"/>
<rect x="377.80" y="336.10" width="10.00" height="7.90" fill="#2f7a44" stroke="#173420" stroke-width="0.4"/>
<rect x="399.30" y="336.10" width="9.60" height="7.90" fill="#2f7a44" stroke="#173420" stroke-width="0.4"/>
<rect x="415.30" y="336.10" width="9.70" height="7.90" fill="#2f7a44" stroke="#173420" stroke-width="0.4"/>
<rect x="432.00" y="336.10" width="10.20" height="7.90" fill="#2f7a44" stroke="#173420" stroke-width="0.4"/>
<rect x="442.20" y="336.10" width="10.20" height="7.90" fill="#2f7a44"/>
<rect x="442.50" y="336.40" width="9.60" height="7.30" fill="none" stroke="#d04a43" stroke-width="0.8"/>
<rect x="457.70" y="336.10" width="9.60" height="7.90" fill="#2f7a44"/>
<rect x="458.00" y="336.40" width="9.00" height="7.30" fill="none" stroke="#d04a43" stroke-width="0.8"/>
<rect x="473.70" y="336.10" width="9.70" height="7.90" fill="#2f7a44"/>
<rect x="474.00" y="336.40" width="9.10" height="7.30" fill="none" stroke="#d04a43" stroke-width="0.8"/>
<rect x="483.40" y="336.10" width="10.30" height="7.90" fill="#2f7a44" stroke="#173420" stroke-width="0.4"/>
<rect x="495.20" y="336.10" width="9.60" height="7.90" fill="#2f7a44" stroke="#173420" stroke-width="0.4"/>
<rect x="504.80" y="336.10" width="13.20" height="7.90" fill="#987eb2" stroke="#173420" stroke-width="0.4"/>
<rect x="518.00" y="336.10" width="9.60" height="7.90" fill="#2f7a44"/>
<rect x="518.30" y="336.40" width="9.00" height="7.30" fill="none" stroke="#d04a43" stroke-width="0.8"/>
<rect x="528.20" y="336.10" width="10.20" height="7.90" fill="#2f7a44"/>
<rect x="528.50" y="336.40" width="9.60" height="7.30" fill="none" stroke="#d04a43" stroke-width="0.8"/>
<rect x="542.80" y="336.10" width="9.30" height="7.90" fill="#2f7a44"/>
<rect x="543.10" y="336.40" width="8.70" height="7.30" fill="none" stroke="#d04a43" stroke-width="0.8"/>
<rect x="553.00" y="336.10" width="9.60" height="7.90" fill="#2f7a44"/>
<rect x="553.30" y="336.40" width="9.00" height="7.30" fill="none" stroke="#d04a43" stroke-width="0.8"/>
<rect x="562.60" y="336.10" width="13.20" height="7.90" fill="#987eb2" stroke="#173420" stroke-width="0.4"/>
<rect x="575.80" y="336.10" width="9.30" height="7.90" fill="#2f7a44" stroke="#173420" stroke-width="0.4"/>
<rect x="586.50" y="336.10" width="9.50" height="7.90" fill="#2f7a44" stroke="#173420" stroke-width="0.4"/>
<rect x="597.80" y="336.10" width="9.10" height="7.90" fill="#2f7a44" stroke="#173420" stroke-width="0.4"/>
<rect x="608.40" y="336.10" width="9.40" height="7.90" fill="#2f7a44" stroke="#173420" stroke-width="0.4"/>
<rect x="620.30" y="336.10" width="9.20" height="7.90" fill="#2f7a44" stroke="#173420" stroke-width="0.4"/>
<rect x="631.40" y="336.10" width="9.10" height="7.90" fill="#2f7a44" stroke="#173420" stroke-width="0.4"/>
<rect x="643.10" y="336.10" width="9.80" height="7.90" fill="#2f7a44" stroke="#173420" stroke-width="0.4"/>
<path d="M310.20,334.00 L310.20,331.60 L442.20,331.60 L442.20,334.00" fill="none" stroke="#444" stroke-width="0.45" />
<path d="M376.20,331.60 L376.20,329.20" fill="none" stroke="#444" stroke-width="0.45" />
<circle cx="343.80" cy="326.30" r="3.35" fill="#fff" stroke="#2a2a2a" stroke-width="0.5"/>
<text x="343.80" y="327.76" font-size="3.8" text-anchor="middle" fill="#111"  stroke="#111" stroke-width="0.12">1</text>
<text x="351.10" y="328.00" font-size="4.47" text-anchor="start" fill="#111"  stroke="#111" stroke-width="0.12">chr8:86110000-86389995</text>
<circle cx="411.00" cy="320.50" r="3.35" fill="#fff" stroke="#2a2a2a" stroke-width="0.5"/>
<text x="411.00" y="321.96" font-size="3.8" text-anchor="middle" fill="#111"  stroke="#111" stroke-width="0.12">6</text>
<text x="416.80" y="322.40" font-size="4.47" text-anchor="start" fill="#111"  stroke="#111" stroke-width="0.12">chr8:86389996-86519999</text>
<path d="M427.00,323.30 L442.30,327.90 L456.20,323.30" fill="none" stroke="#444" stroke-width="0.45" />
<path d="M442.30,327.90 L442.30,334.20" fill="none" stroke="#444" stroke-width="0.45" />
<circle cx="466.40" cy="326.00" r="3.35" fill="#fff" stroke="#2a2a2a" stroke-width="0.5"/>
<text x="466.40" y="327.46" font-size="3.8" text-anchor="middle" fill="#111"  stroke="#111" stroke-width="0.12">3</text>
<text x="471.10" y="327.80" font-size="4.47" text-anchor="start" fill="#111"  stroke="#111" stroke-width="0.12">chr8:86520000-86589999</text>
<path d="M483.80,333.60 L483.80,331.20 L504.80,331.20 L504.80,333.60" fill="none" stroke="#444" stroke-width="0.45" />
<path d="M494.30,331.20 L494.30,328.80" fill="none" stroke="#444" stroke-width="0.45" />
<circle cx="529.70" cy="318.80" r="3.35" fill="#fff" stroke="#2a2a2a" stroke-width="0.5"/>
<text x="529.70" y="320.26" font-size="3.8" text-anchor="middle" fill="#111"  stroke="#111" stroke-width="0.12">8</text>
<text x="525.30" y="327.40" font-size="4.47" text-anchor="start" fill="#111"  stroke="#111" stroke-width="0.12">chr8:86700000-86723642</text>
<path d="M524.90,327.20 L575.40,327.20" fill="none" stroke="#333" stroke-width="0.5" />
<path d="M524.90,327.20 L563.50,332.90 L575.30,333.50" fill="none" stroke="#444" stroke-width="0.45" />
<path d="M575.40,327.20 L575.40,335.50" fill="none" stroke="#444" stroke-width="0.45" />
<circle cx="580.70" cy="326.30" r="3.35" fill="#fff" stroke="#2a2a2a" stroke-width="0.5"/>
<text x="580.70" y="327.76" font-size="3.8" text-anchor="middle" fill="#111"  stroke="#111" stroke-width="0.12">5</text>
<text x="586.60" y="328.00" font-size="4.47" text-anchor="start" fill="#111"  stroke="#111" stroke-width="0.12">chr8:86723643-86909999</text>
<path d="M575.90,334.00 L575.90,331.60 L653.10,331.60 L653.10,334.00" fill="none" stroke="#444" stroke-width="0.45" />
<path d="M614.50,331.60 L614.50,329.20" fill="none" stroke="#444" stroke-width="0.45" />
<path d="M442.30,345.00 L442.30,347.60 L483.30,347.60 L483.30,345.00" fill="none" stroke="#444" stroke-width="0.45" />
<path d="M462.80,347.60 L462.80,350.20" fill="none" stroke="#444" stroke-width="0.45" />
<path d="M440.10,351.50 L491.20,351.50" fill="none" stroke="#111" stroke-width="0.8" />
<circle cx="434.30" cy="354.30" r="3.35" fill="#fff" stroke="#2a2a2a" stroke-width="0.5"/>
<text x="434.30" y="355.76" font-size="3.8" text-anchor="middle" fill="#111"  stroke="#111" stroke-width="0.12">2</text>
<text x="440.70" y="355.90" font-size="4.47" text-anchor="start" fill="#111"  stroke="#111" stroke-width="0.12">chr8:86390000-86519999</text>
<path d="M518.10,345.00 L518.10,347.60 L562.50,347.60 L562.50,345.00" fill="none" stroke="#444" stroke-width="0.45" />
<path d="M540.30,347.60 L540.30,350.20" fill="none" stroke="#444" stroke-width="0.45" />
<path d="M526.70,351.50 L577.20,351.50" fill="none" stroke="#111" stroke-width="0.8" />
<circle cx="521.80" cy="354.30" r="3.35" fill="#fff" stroke="#2a2a2a" stroke-width="0.5"/>
<text x="521.80" y="355.76" font-size="3.8" text-anchor="middle" fill="#111"  stroke="#111" stroke-width="0.12">4</text>
<text x="526.70" y="355.90" font-size="4.47" text-anchor="start" fill="#111"  stroke="#111" stroke-width="0.12">chr8:86610000-86699999</text>
<path d="M504.90,344.00 L504.90,356.70 L495.20,364.60" fill="none" stroke="#444" stroke-width="0.45" />
<path d="M517.40,344.00 L517.40,356.00 L532.40,364.50" fill="none" stroke="#444" stroke-width="0.45" />
<circle cx="482.90" cy="367.40" r="3.35" fill="#fff" stroke="#2a2a2a" stroke-width="0.5"/>
<text x="482.90" y="368.86" font-size="3.8" text-anchor="middle" fill="#111"  stroke="#111" stroke-width="0.12">7</text>
<text x="488.20" y="369.20" font-size="4.47" text-anchor="start" fill="#111"  stroke="#111" stroke-width="0.12">chr8:86570000-86609999</text>
<text x="331.20" y="371.50" font-size="7.35" text-anchor="start" fill="#000"  stroke="#000" stroke-width="0.09">Ambigram resolved BFB path</text>
<text x="306.00" y="387.50" font-size="7.35" text-anchor="start" fill="#000"  stroke="#000" stroke-width="0.09">(First stage)</text>
<circle cx="309.00" cy="395.60" r="3.35" fill="#fff" stroke="#2a2a2a" stroke-width="0.5"/>
<text x="309.00" y="397.06" font-size="3.8" text-anchor="middle" fill="#111"  stroke="#111" stroke-width="0.12">1</text>
<circle cx="309.00" cy="418.40" r="3.35" fill="#fff" stroke="#2a2a2a" stroke-width="0.5"/>
<text x="309.00" y="419.86" font-size="3.8" text-anchor="middle" fill="#111"  stroke="#111" stroke-width="0.12">2</text>
<circle cx="309.00" cy="433.00" r="3.35" fill="#fff" stroke="#2a2a2a" stroke-width="0.5"/>
<text x="309.00" y="434.46" font-size="3.8" text-anchor="middle" fill="#111"  stroke="#111" stroke-width="0.12">3</text>
<circle cx="309.00" cy="453.40" r="3.35" fill="#fff" stroke="#2a2a2a" stroke-width="0.5"/>
<text x="309.00" y="454.86" font-size="3.8" text-anchor="middle" fill="#111"  stroke="#111" stroke-width="0.12">4</text>
<circle cx="309.00" cy="470.40" r="3.35" fill="#fff" stroke="#2a2a2a" stroke-width="0.5"/>
<text x="309.00" y="471.86" font-size="3.8" text-anchor="middle" fill="#111"  stroke="#111" stroke-width="0.12">5</text>
<rect x="317.20" y="391.50" width="115.90" height="7.90" fill="#2f7a44" stroke="#173420" stroke-width="0.4"/>
<text x="373.40" y="397.79" font-size="6.27" text-anchor="middle" fill="#fff"  stroke="#fff" stroke-width="0.09">chr8:86110000-86389995</text>
<path d="M433.10,395.40 C453.63,395.40 453.63,415.60 433.10,415.60" fill="none" stroke="#1a1a1a" stroke-width="1.05" stroke-dasharray="3.8,2.6" stroke-linecap="butt"/>
<path d="M371.8,415.6 C345.2,419.9 317.3,430.3 355.1,432.5" fill="none" stroke="#1a1a1a" stroke-width="0.95"/>
<rect x="371.80" y="411.70" width="61.30" height="7.60" fill="#2f7a44"/>
<rect x="372.10" y="412.00" width="60.70" height="7.00" fill="none" stroke="#d04a43" stroke-width="0.8"/>
<text x="403.60" y="417.20" font-size="4.47" text-anchor="middle" fill="#fff"  stroke="#fff" stroke-width="0.12">chr8:86610000-86699999</text>
<rect x="355.10" y="428.60" width="16.70" height="7.90" fill="#2f7a44" stroke="#173420" stroke-width="0.4"/>
<text x="327.10" y="442.14" font-size="6.27" text-anchor="start" fill="#111"  stroke="#111" stroke-width="0.09">chr8:86520000-86569999</text>
<path d="M371.80,432.40 C414.59,432.40 409.46,452.80 387.20,452.80" fill="none" stroke="#1a1a1a" stroke-width="1.05" stroke-dasharray="3.8,2.6" stroke-linecap="butt"/>
<path d="M355.10,452.80 C329.37,452.80 323.81,470.40 371.80,470.40" fill="none" stroke="#1a1a1a" stroke-width="1.05" stroke-dasharray="3.8,2.6" stroke-linecap="butt"/>
<rect x="355.10" y="449.10" width="32.10" height="7.30" fill="#2f7a44"/>
<rect x="355.40" y="449.40" width="31.50" height="6.70" fill="none" stroke="#d04a43" stroke-width="0.8"/>
<path d="M349.90,457.80 L419.90,457.80" fill="none" stroke="#111" stroke-width="0.9" />
<text x="349.90" y="463.74" font-size="6.27" text-anchor="start" fill="#111"  stroke="#111" stroke-width="0.09">chr8:86390000-86519999</text>
<rect x="371.80" y="466.60" width="61.30" height="7.30" fill="#2f7a44" stroke="#173420" stroke-width="0.4"/>
<text x="403.00" y="471.95" font-size="4.47" text-anchor="middle" fill="#fff"  stroke="#fff" stroke-width="0.12">chr8:86723643-86909999</text>
<text x="492.00" y="387.20" font-size="7.35" text-anchor="start" fill="#000"  stroke="#000" stroke-width="0.09">(Second stage)</text>
<circle cx="498.60" cy="395.90" r="3.35" fill="#fff" stroke="#2a2a2a" stroke-width="0.5"/>
<text x="498.60" y="397.36" font-size="3.8" text-anchor="middle" fill="#111"  stroke="#111" stroke-width="0.12">1</text>
<path d="M621.30,395.60 L632.70,395.60" fill="none" stroke="#1a1a1a" stroke-width="0.95" />
<rect x="504.80" y="391.40" width="116.50" height="8.40" fill="#2f7a44" stroke="#173420" stroke-width="0.4"/>
<text x="560.00" y="397.94" font-size="6.27" text-anchor="middle" fill="#fff"  stroke="#fff" stroke-width="0.09">chr8:86110000-86389995</text>
<rect x="632.70" y="391.40" width="6.00" height="8.40" fill="#987eb2" stroke="#173420" stroke-width="0.4"/>
<circle cx="628.80" cy="387.80" r="3.35" fill="#fff" stroke="#2a2a2a" stroke-width="0.5"/>
<text x="628.80" y="389.26" font-size="3.8" text-anchor="middle" fill="#111"  stroke="#111" stroke-width="0.12">6</text>
<text x="634.20" y="389.60" font-size="4.47" text-anchor="start" fill="#111"  stroke="#111" stroke-width="0.12">chr8:86389996-86519999</text>
<path d="M638.7,395.6 C662,401 668,412 621.3,416.0" fill="none" stroke="#1a1a1a" stroke-width="0.95"/>
<circle cx="555.40" cy="410.30" r="3.35" fill="#fff" stroke="#2a2a2a" stroke-width="0.5"/>
<text x="555.40" y="411.76" font-size="3.8" text-anchor="middle" fill="#111"  stroke="#111" stroke-width="0.12">2</text>
<path d="M559.3,416.0 C519,418 512,428 542.9,432.7" fill="none" stroke="#1a1a1a" stroke-width="0.95"/>
<rect x="559.30" y="411.80" width="62.00" height="8.10" fill="#2f7a44"/>
<rect x="559.60" y="412.10" width="61.40" height="7.50" fill="none" stroke="#d04a43" stroke-width="0.8"/>
<text x="590.30" y="417.55" font-size="4.47" text-anchor="middle" fill="#fff"  stroke="#fff" stroke-width="0.12">chr8:86610000-86699999</text>
<path d="M559.90,432.70 L596.70,432.70" fill="none" stroke="#4a4a4a" stroke-width="0.9" />
<rect x="542.90" y="428.80" width="17.00" height="7.80" fill="#2f7a44" stroke="#173420" stroke-width="0.4"/>
<rect x="596.70" y="428.80" width="13.50" height="7.80" fill="#987eb2" stroke="#173420" stroke-width="0.4"/>
<circle cx="521.90" cy="440.20" r="3.35" fill="#fff" stroke="#2a2a2a" stroke-width="0.5"/>
<text x="521.90" y="441.66" font-size="3.8" text-anchor="middle" fill="#111"  stroke="#111" stroke-width="0.12">3</text>
<text x="527.30" y="442.00" font-size="4.47" text-anchor="start" fill="#111"  stroke="#111" stroke-width="0.12">chr8:86520000-86569999</text>
<circle cx="591.70" cy="440.20" r="3.35" fill="#fff" stroke="#2a2a2a" stroke-width="0.5"/>
<text x="591.70" y="441.66" font-size="3.8" text-anchor="middle" fill="#111"  stroke="#111" stroke-width="0.12">7</text>
<text x="596.70" y="442.00" font-size="4.47" text-anchor="start" fill="#111"  stroke="#111" stroke-width="0.12">chr8:86570000-86609999</text>
<path d="M610.2,432.7 C674,437 679.5,446.5 575.8,452.2" fill="none" stroke="#1a1a1a" stroke-width="0.95"/>
<path d="M542.9,452.2 C495,455 492,464 524.3,469.9" fill="none" stroke="#1a1a1a" stroke-width="0.95"/>
<rect x="542.90" y="448.30" width="32.90" height="8.10" fill="#2f7a44"/>
<rect x="543.20" y="448.60" width="32.30" height="7.50" fill="none" stroke="#d04a43" stroke-width="0.8"/>
<path d="M533.90,457.70 L607.20,457.70" fill="none" stroke="#111" stroke-width="0.9" />
<circle cx="529.40" cy="461.80" r="3.35" fill="#fff" stroke="#2a2a2a" stroke-width="0.5"/>
<text x="529.40" y="463.26" font-size="3.8" text-anchor="middle" fill="#111"  stroke="#111" stroke-width="0.12">4</text>
<text x="535.40" y="463.64" font-size="6.27" text-anchor="start" fill="#111"  stroke="#111" stroke-width="0.09">chr8:86390000-86519999</text>
<path d="M536.90,469.90 L559.90,469.90" fill="none" stroke="#4a4a4a" stroke-width="0.9" />
<rect x="524.30" y="465.70" width="12.60" height="8.10" fill="#987eb2" stroke="#173420" stroke-width="0.4"/>
<rect x="559.90" y="465.70" width="61.40" height="8.10" fill="#2f7a44" stroke="#173420" stroke-width="0.4"/>
<text x="590.60" y="471.45" font-size="4.47" text-anchor="middle" fill="#fff"  stroke="#fff" stroke-width="0.12">chr8:86723643-86909999</text>
<circle cx="514.40" cy="479.80" r="3.35" fill="#fff" stroke="#2a2a2a" stroke-width="0.5"/>
<text x="514.40" y="481.26" font-size="3.8" text-anchor="middle" fill="#111"  stroke="#111" stroke-width="0.12">8</text>
<text x="519.80" y="481.60" font-size="4.47" text-anchor="start" fill="#111"  stroke="#111" stroke-width="0.12">chr8:86700000-86723642</text>
<circle cx="590.80" cy="477.70" r="3.35" fill="#fff" stroke="#2a2a2a" stroke-width="0.5"/>
<text x="590.80" y="479.16" font-size="3.8" text-anchor="middle" fill="#111"  stroke="#111" stroke-width="0.12">5</text>
</svg>
</body></html>
